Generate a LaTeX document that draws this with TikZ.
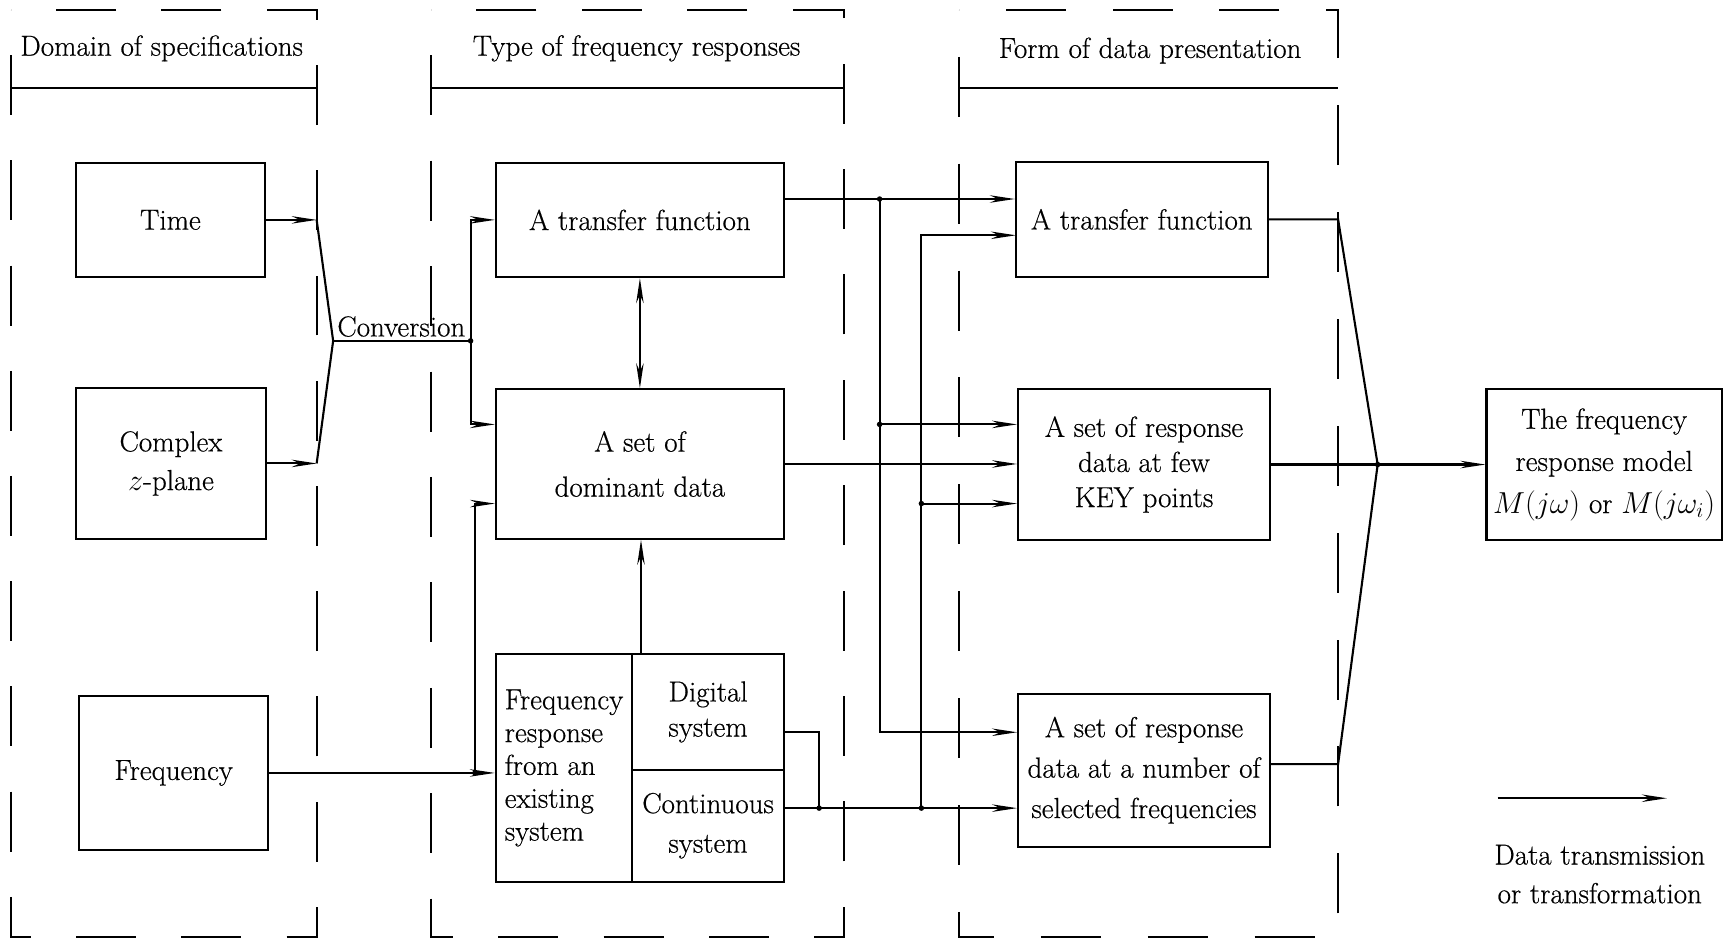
\documentclass[tikz,border=0pt]{standalone}
\usepackage{fontspec}
\setmainfont{Latin Modern Roman}[FakeBold=0.5]
\usetikzlibrary{arrows.meta, decorations}

\begin{document}
\begin{tikzpicture}[x=0.22mm, y=-0.22mm, line width=1.2pt,
    font=\fontsize{16.5}{20}\selectfont,
    box/.style={draw, line width=1.2pt, inner sep=0pt, align=center},
    frame/.style={line width=1.2pt, dash pattern=on 12mm off 9mm, dash expand off},
    arr/.style={-{Stealth[length=5mm, width=1.5mm]}},
    darr/.style={{Stealth[length=5mm, width=1.5mm]}-{Stealth[length=5mm, width=1.5mm]}}]

\useasboundingbox (0,0) rectangle (1568,854);

% the three columns
\draw[frame] (10,9) rectangle (288,852);
\draw[frame] (392,9) rectangle (768,852);
\draw[frame] (872,9) rectangle (1217,852);
\draw (10,80) -- (288,80);
\draw (392,80) -- (768,80);
\draw (872,80) -- (1217,80);
\node (hd1) at (147,44) {Domain of specifications};
\node (hd2) at (579,44) {Type of frequency responses};
\node (hd3) at (1046,46) {Form of data presentation};

% domain of specifications
\node[box, minimum width=37.8mm, minimum height=22.9mm] (time) at (155,200) {Time};
\node[box, minimum width=38.1mm, minimum height=30.1mm] (cplx) at (155.5,421.5) {Complex\\[2pt]$z$-plane};
\node[box, minimum width=37.8mm, minimum height=30.8mm] (freq) at (158,703) {Frequency};

% type of frequency responses
\node[box, minimum width=57.6mm, minimum height=22.9mm] (tf) at (582,200) {A transfer function};
\node[box, minimum width=57.6mm, minimum height=29.9mm] (dom) at (582,422) {A set of\\[5.6pt]dominant data};
\node[box, minimum width=27.3mm, minimum height=45.5mm, align=left] (exist) at (513,698.5)
    {Frequency\\[-1.3pt]response\\[-1.3pt]from an\\[-1.3pt]existing\\[-1.3pt]system};
\node[box, minimum width=30.4mm, minimum height=23.1mm] (dig) at (644,647.5) {Digital\\system};
\node[box, minimum width=30.4mm, minimum height=22.4mm] (cont) at (644,751) {Continuous\\[2.5pt]system};

% form of data presentation
\node[box, minimum width=50.4mm, minimum height=23.1mm] (tfd) at (1038.5,199.5) {A transfer function};
\node[box, minimum width=50.4mm, minimum height=30.1mm] (key) at (1040.5,422.5) {A set of response\\data at few\\KEY points};
\node[box, minimum width=50.4mm, minimum height=30.6mm] (sel) at (1040.5,700.5)
    {A set of response\\[3pt]data at a number of\\[3pt]selected frequencies};
\node[box, minimum width=47.1mm, minimum height=30.1mm] (model) at (1459,422.5)
    {The frequency\\[4pt]response model\\[4pt]$M(j\omega)$ or $M(j\omega_i)$};

\node (conv) at (365,297) {Conversion};
\node[align=center] (lgtxt) at (1455,795) {Data transmission\\[2pt]or transformation};

% junctions
\coordinate (tm) at (288,200);
\coordinate (cz) at (288,421.5);
\coordinate (cv) at (303,310);
\coordinate (cvd) at (428,310);
\coordinate (fd) at (432,703);
\coordinate (upb) at (583,595);
\coordinate (dgo) at (713,666);
\coordinate (dj) at (745,735);
\coordinate (cno) at (713,735);
\coordinate (tfo) at (713,181);
\coordinate (va) at (800,181);
\coordinate (vam) at (800,386);
\coordinate (vb) at (838,735);
\coordinate (vbm) at (838,458);
\coordinate (tdin) at (924,214);
\coordinate (r1) at (1217,199.5);
\coordinate (r3) at (1217,695);
\coordinate (oj) at (1253,422.5);
\coordinate (lg1) at (1362,726);
\coordinate (lg2) at (1516,726);

% conversion
\draw[arr] (time.east) -- (tm);
\draw[arr] (cplx.east) -- (cz);
\draw (tm) -- (cv) -- (cz);
\draw (cv) -- (cvd);
\draw[arr] (cvd) |- (tf.west);
\draw[arr] (cvd) |- (vam -| dom.west);
\draw[arr] (freq.east) -- (freq.east -| exist.west);
\draw[arr] (fd) |- (vbm -| dom.west);
\draw[darr] (tf.south) -- (dom.north);
\draw[arr] (upb) -- (upb |- dom.south);

% to the forms of presentation
\draw (dgo) -| (dj);
\draw[arr] (cno) -- (cno -| sel.west);
\draw[arr] (tfo) -- (tfo -| tfd.west);
\draw[arr] (va) |- (dgo -| sel.west);
\draw[arr] (vam) -- (vam -| key.west);
\draw[arr] (dom.east) -- (dom.east -| key.west);
\draw[arr] (vb) |- (tdin);
\draw[arr] (vbm) -- (vbm -| key.west);

% to the model
\draw (tfd.east) -- (r1) -- (oj);
\draw (sel.east |- r3) -- (r3) -- (oj);
\draw (key.east) -- (oj);
\draw[arr] (oj) -- (model.west);
\draw[arr] (lg1) -- (lg2);

\foreach \p in {cvd, fd, dj, vb, va, vam, vbm, oj}
    \fill (\p) circle (0.55mm);
\end{tikzpicture}
\end{document}
